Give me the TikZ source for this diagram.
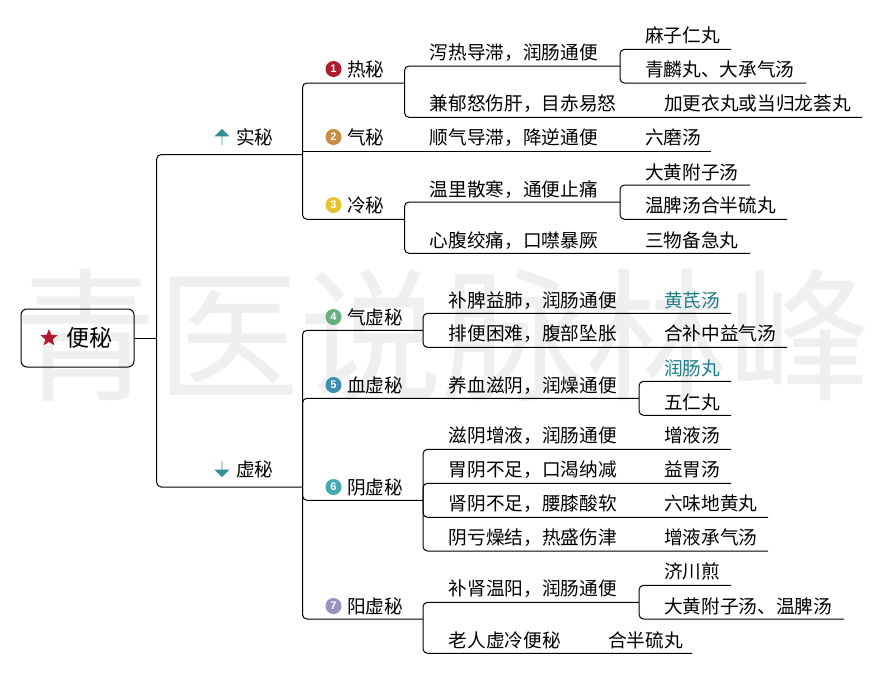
\documentclass[tikz,border=0pt]{standalone}
\usepackage{fontspec}
\setmainfont{Noto Sans CJK SC}
\newfontfamily\digitfont{Liberation Sans}
\usetikzlibrary{shapes.geometric,shapes.arrows}
\definecolor{wm}{HTML}{EFEFEF}
\definecolor{teal1}{HTML}{1F7F85}
\definecolor{arrowc}{HTML}{2F9197}
\definecolor{bA}{HTML}{AE1C2E}
\definecolor{bB}{HTML}{C98A45}
\definecolor{bC}{HTML}{E6C430}
\definecolor{bD}{HTML}{65AE82}
\definecolor{bE}{HTML}{3C8FB0}
\definecolor{bF}{HTML}{45A9B2}
\definecolor{bG}{HTML}{9C90BE}
\tikzset{
  lab/.style={anchor=west,inner sep=0pt,text height=17.5pt,text depth=3pt,font=\fontsize{18.67}{20}\selectfont,text=black},
  link/.style={draw=black,line width=1pt,rounded corners=4.5pt},
  badge/.style={circle,inner sep=0pt,minimum size=16pt,text=white,font=\digitfont\bfseries\fontsize{11}{11}\selectfont},
  updown/.style={single arrow,fill=arrowc,inner sep=0pt,minimum height=16pt,minimum width=15pt,single arrow head extend=5pt,single arrow tip angle=90},
}
\begin{document}
\begin{tikzpicture}[x=1pt,y=-1pt]
\useasboundingbox (0,0) rectangle (884,675);
\fill[white] (0,0) rectangle (884,675);
\node[inner sep=0pt,text=wm,text height=121pt,text depth=22pt,font=\fontsize{143}{143}\selectfont] (watermark) at (443,340) {青医说脉林峰};

% root
\node[draw=black,line width=1pt,rounded corners=6pt,minimum width=113pt,minimum height=58pt,inner sep=0pt] (root) at (77.5,338) {};
\node[star,star points=5,star point ratio=2.3,fill=bA,inner sep=0pt,minimum size=18pt] (rootstar) at (49,338) {};
\node[lab,font=\fontsize{23}{24}\selectfont,text height=21pt,text depth=4pt] (rootlab) at (66,338) {便秘};

% level 1
\node[updown,shape border rotate=90] (upicon) at (222,137) {};
\node[lab] (shi) at (236,137) {实秘};
\node[updown,shape border rotate=270] (downicon) at (222,469) {};
\node[lab] (xu) at (236,469) {虚秘};

% badges and types
\node[badge,fill=bA] (b1) at (333.5,69) {1};
\node[lab] (t1) at (347,69) {热秘};
\node[badge,fill=bB] (b2) at (333.5,137) {2};
\node[lab] (t2) at (347,137) {气秘};
\node[badge,fill=bC] (b3) at (333.5,205) {3};
\node[lab] (t3) at (347,205) {冷秘};
\node[badge,fill=bD] (b4) at (333.5,317) {4};
\node[lab] (t4) at (347,317) {气虚秘};
\node[badge,fill=bE] (b5) at (333.5,385) {5};
\node[lab] (t5) at (347,385) {血虚秘};
\node[badge,fill=bF] (b6) at (333.5,487) {6};
\node[lab] (t6) at (347,487) {阴虚秘};
\node[badge,fill=bG] (b7) at (333.5,606) {7};
\node[lab] (t7) at (347,606) {阳虚秘};

% methods
\node[lab] (m1) at (429.5,52) {泻热导滞，润肠通便};
\node[lab] (m2) at (429.5,103) {兼郁怒伤肝，目赤易怒};
\node[lab] (m3) at (429.5,137) {顺气导滞，降逆通便};
\node[lab] (m4) at (429.5,189) {温里散寒，通便止痛};
\node[lab] (m5) at (429.5,240) {心腹绞痛，口噤暴厥};
\node[lab] (m6) at (448.5,300) {补脾益肺，润肠通便};
\node[lab] (m7) at (448.5,333) {排便困难，腹部坠胀};
\node[lab] (m8) at (448.5,385) {养血滋阴，润燥通便};
\node[lab] (m9) at (448.5,435) {滋阴增液，润肠通便};
\node[lab] (m10) at (448.5,469) {胃阴不足，口渴纳减};
\node[lab] (m11) at (448.5,503) {肾阴不足，腰膝酸软};
\node[lab] (m12) at (448.5,537.5) {阴亏燥结，热盛伤津};
\node[lab] (m13) at (448.5,588) {补肾温阳，润肠通便};
\node[lab] (m14) at (448.5,640) {老人虚冷便秘};

% formulas
\node[lab] (f1) at (645,35) {麻子仁丸};
\node[lab] (f2) at (645,69) {青麟丸、大承气汤};
\node[lab] (f3) at (664,103) {加更衣丸或当归龙荟丸};
\node[lab] (f4) at (645,137) {六磨汤};
\node[lab] (f5) at (645,172) {大黄附子汤};
\node[lab] (f6) at (645,205) {温脾汤合半硫丸};
\node[lab] (f7) at (645,240) {三物备急丸};
\node[lab,text=teal1] (f8) at (664,300) {黄芪汤};
\node[lab] (f9) at (664,333) {合补中益气汤};
\node[lab,text=teal1] (f10) at (664,368) {润肠丸};
\node[lab] (f11) at (664,402) {五仁丸};
\node[lab] (f12) at (664,435) {增液汤};
\node[lab] (f13) at (664,469) {益胃汤};
\node[lab] (f14) at (664,503) {六味地黄丸};
\node[lab] (f15) at (664,537.5) {增液承气汤};
\node[lab] (f16) at (664,571.5) {济川煎};
\node[lab] (f17) at (664,606) {大黄附子汤、温脾汤};
\node[lab] (f18) at (608,640) {合半硫丸};

% junctions and free ends
\coordinate (j0) at (156.7,338);
\coordinate (shiEnd) at (302.5,154.5);
\coordinate (xuEnd) at (302.5,487);
\coordinate (jA) at (302.5,151.8);
\coordinate (jB) at (302.5,487);
\coordinate (j1) at (404.5,83);
\coordinate (j1a) at (620,66);
\coordinate (e1) at (731,49.3);
\coordinate (e2) at (806,83);
\coordinate (e3) at (862,117.3);
\coordinate (e4) at (711,151.8);
\coordinate (j3) at (404.5,219.3);
\coordinate (j3a) at (620,202);
\coordinate (e5) at (750,185);
\coordinate (e6) at (787,219.3);
\coordinate (e7) at (750,253.3);
\coordinate (j4) at (423,330.3);
\coordinate (e8) at (731,313.3);
\coordinate (e9) at (787,347.3);
\coordinate (j5) at (639,398.3);
\coordinate (e10) at (731,381.3);
\coordinate (e11) at (731,415.3);
\coordinate (j6) at (423,500.3);
\coordinate (e12) at (731,449.3);
\coordinate (e13) at (731,483.3);
\coordinate (e14) at (768,517.3);
\coordinate (e15) at (768,551);
\coordinate (j7) at (423,619);
\coordinate (j7a) at (639,602.3);
\coordinate (e16) at (731,585.3);
\coordinate (e17) at (844,619);
\coordinate (e18) at (692,653.3);

% connectors
\draw[link] (root.east) -- (j0);
\draw[link] (j0) |- (shiEnd);
\draw[link] (j0) |- (xuEnd);
\draw[link] (jA) |- (j1);
\draw[link] (jA) |- (j3);
\draw[link] (jA) -- (e4);
\draw[link] (j1) |- (j1a);
\draw[link] (j1) |- (e3);
\draw[link] (j1a) |- (e1);
\draw[link] (j1a) |- (e2);
\draw[link] (j3) |- (j3a);
\draw[link] (j3) |- (e7);
\draw[link] (j3a) |- (e5);
\draw[link] (j3a) |- (e6);
\draw[link] (jB) |- (j4);
\draw[link] (jB) |- (j5);
\draw[link] (jB) -- ++(0,13.3) -- (j6);
\draw[link] (jB) |- (j7);
\draw[link] (j4) |- (e8);
\draw[link] (j4) |- (e9);
\draw[link] (j5) |- (e10);
\draw[link] (j5) |- (e11);
\draw[link] (j6) |- (e12);
\draw[link] (j6) |- (e13);
\draw[link] (j6) |- (e14);
\draw[link] (j6) |- (e15);
\draw[link] (j7) |- (j7a);
\draw[link] (j7) |- (e18);
\draw[link] (j7a) |- (e16);
\draw[link] (j7a) |- (e17);
\end{tikzpicture}
\end{document}
